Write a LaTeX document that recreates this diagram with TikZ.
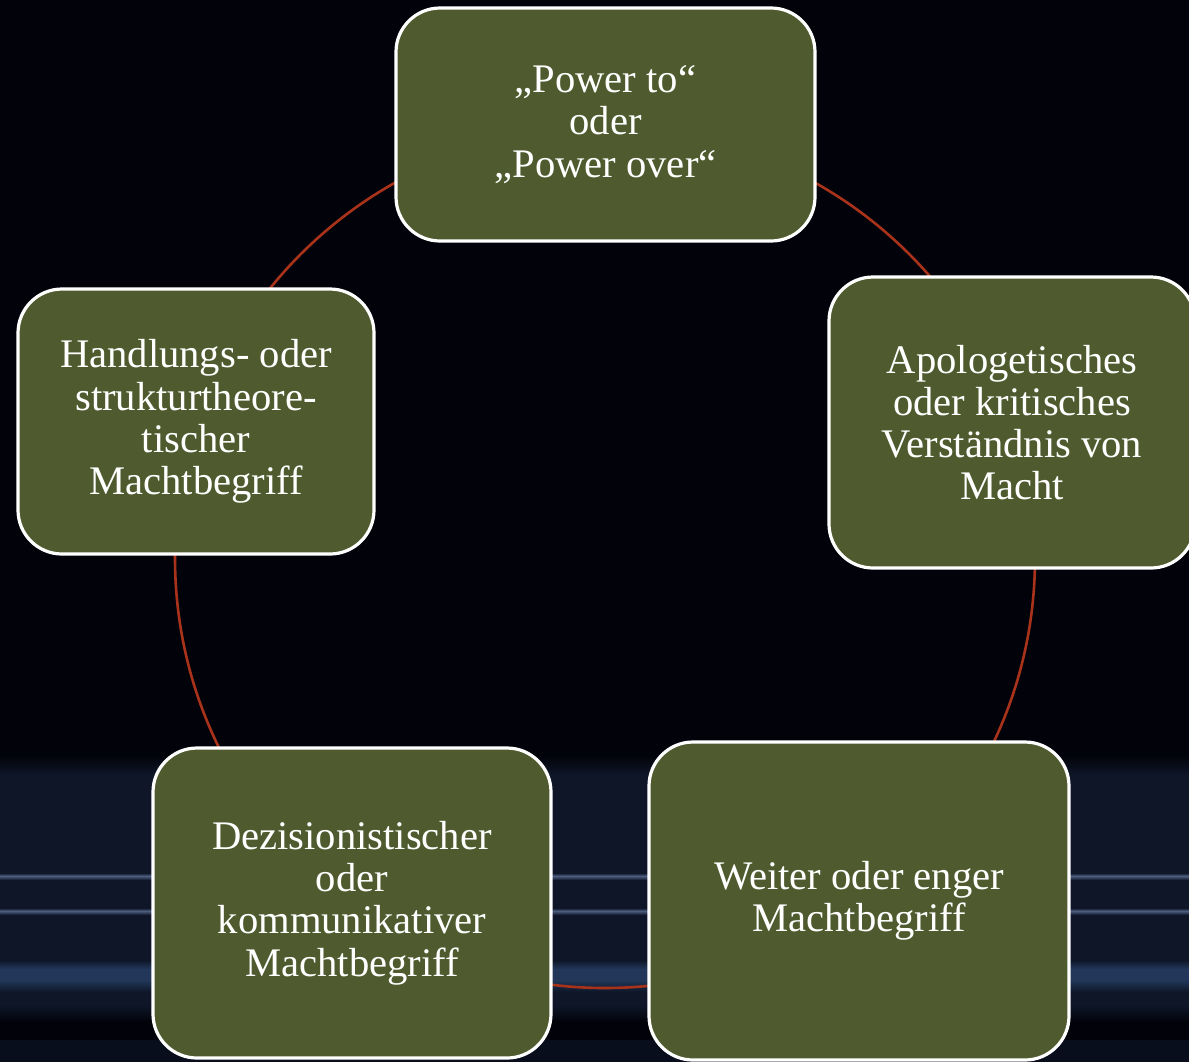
\documentclass[tikz,border=0pt]{standalone}
\usepackage{fontspec}
\setmainfont{Liberation Serif}
\begin{document}
\begin{tikzpicture}[x=0.5pt,y=-0.5pt]
\definecolor{bg}{HTML}{02030A}
\definecolor{navy}{HTML}{0E1628}
\definecolor{streak}{HTML}{4E5E80}
\definecolor{band}{HTML}{22375A}
\definecolor{olive}{HTML}{4F5B2E}
\definecolor{ring}{HTML}{A8321A}
\tikzset{
  box/.style={draw=white, line width=1.6pt, fill=olive, rounded corners=22pt,
    text=white, align=center, font=\fontsize{20.3}{21.1}\selectfont, inner sep=0pt},
}
\useasboundingbox (0,0) rectangle (1189,1062);
\fill[bg] (0,0) rectangle (1189,1062);
% bottom band
\fill[navy] (0,765) rectangle (1189,1015);
\shade[top color=bg, bottom color=navy] (0,755) rectangle (1189,775);
\shade[top color=navy, bottom color=streak] (0,873) rectangle (1189,876);
\shade[top color=streak, bottom color=navy] (0,876) rectangle (1189,880);
\shade[top color=navy, bottom color=streak] (0,908) rectangle (1189,911);
\shade[top color=streak, bottom color=navy] (0,911) rectangle (1189,915);
\shade[top color=navy, bottom color=band] (0,960) rectangle (1189,969);
\fill[band] (0,969) rectangle (1189,980);
\shade[top color=band, bottom color=navy] (0,980) rectangle (1189,992);
\shade[top color=navy, bottom color=bg] (0,1005) rectangle (1189,1022);
\fill[navy!60!bg] (0,1040) rectangle (1189,1062);
% ring
\coordinate (c) at (605,558);
\draw[ring, line width=1.3pt] (c) circle[radius=215pt];
% boxes
\node[box, minimum width=209.5pt, minimum height=116.5pt] (top) at (605.5,124.5)
  {„Power to“\\oder\\„Power over“};
\node[box, minimum width=183pt, minimum height=145.5pt] (right) at (1012,422.5)
  {Apologetisches\\oder kritisches\\Verständnis von\\Macht};
\node[box, minimum width=178pt, minimum height=132.5pt] (left) at (196,421.5)
  {Handlungs- oder\\strukturtheore-\\tischer\\Machtbegriff};
\node[box, minimum width=199pt, minimum height=155pt] (bl) at (352,903)
  {Dezisionistischer\\oder\\kommunikativer\\Machtbegriff};
\node[box, minimum width=210pt, minimum height=159pt] (br) at (859,901)
  {Weiter oder enger\\Machtbegriff};
\end{tikzpicture}
\end{document}
